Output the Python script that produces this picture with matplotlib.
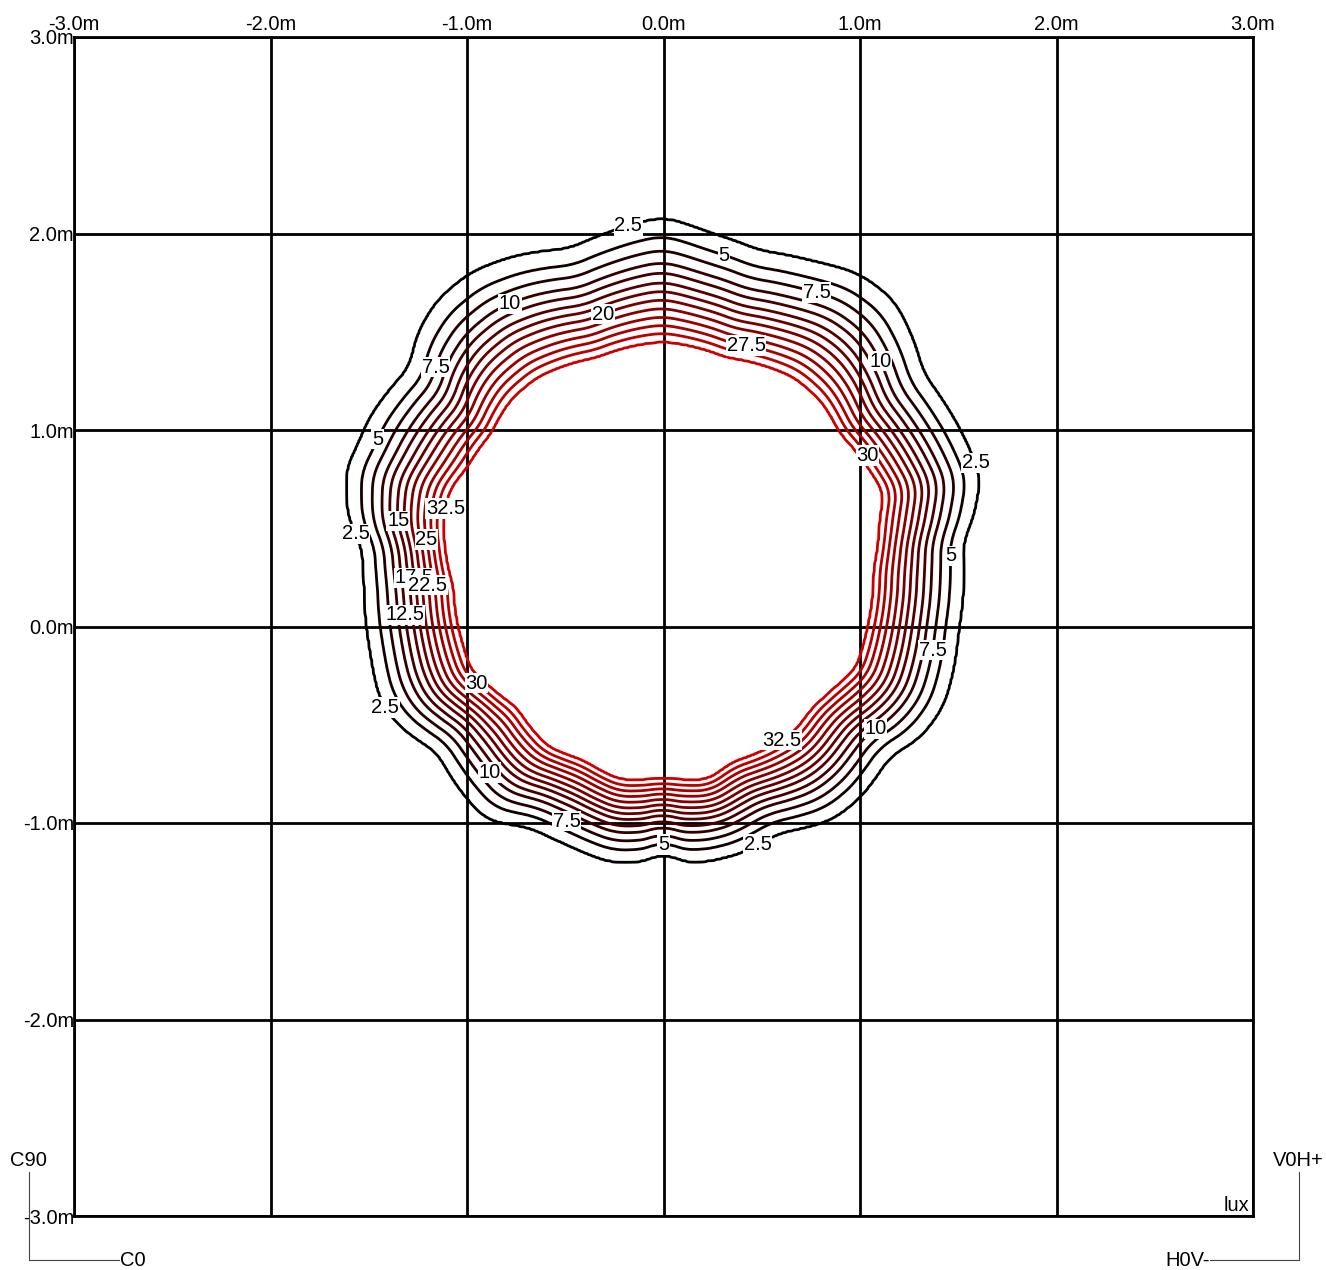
import numpy as np
import matplotlib
matplotlib.use('Agg')
import matplotlib.pyplot as plt
from matplotlib.lines import Line2D

plt.rcParams['font.family'] = ['Liberation Sans', 'DejaVu Sans']

# isolux levels (lux)
levels = [2.5, 5, 7.5, 10, 12.5, 15, 17.5, 20, 22.5, 25, 27.5, 30, 32.5]
# where each level sits between the 2.5 curve (0) and the 32.5 curve (1), read at the top
level_pos = [0, 0.15, 0.26, 0.36, 0.44, 0.52, 0.59, 0.66, 0.73, 0.80, 0.867, 0.933, 1.0]

# 2.5 lux curve (m)
outer_x = [0.00, -0.10, -0.29, -0.48, -0.77, -0.98, -1.15, -1.25, -1.29, -1.38, -1.49, -1.56,
           -1.61, -1.61, -1.60, -1.53, -1.52, -1.51, -1.49, -1.44, -1.36, -1.15, -1.02, -0.90,
           -0.68, -0.51, -0.26, -0.07, 0.00, 0.07, 0.19, 0.40, 0.58, 0.86, 1.00, 1.15, 1.31,
           1.42, 1.47, 1.50, 1.52, 1.52, 1.57, 1.61, 1.52, 1.42, 1.32, 1.27, 1.17, 1.00, 0.75,
           0.49, 0.24]
outer_y = [2.08, 2.06, 2.00, 1.92, 1.88, 1.80, 1.66, 1.49, 1.32, 1.22, 1.07, 0.91,
           0.81, 0.64, 0.55, 0.40, 0.20, 0.00, -0.13, -0.37, -0.49, -0.64, -0.85, -0.98,
           -1.02, -1.10, -1.20, -1.19, -1.14, -1.19, -1.20, -1.15, -1.05, -0.98, -0.87, -0.66, -0.56,
           -0.41, -0.24, -0.02, 0.12, 0.43, 0.54, 0.76, 0.98, 1.15, 1.29, 1.46, 1.66, 1.79, 1.86,
           1.91, 2.00]

# 32.5 lux curve
inner_x = [0.00, -0.34, -0.64, -0.78, -0.88, -1.00, -1.09, -1.12, -1.07, -1.02, -0.98, -0.88,
           -0.75, -0.59, -0.41, -0.22, 0.00, 0.22, 0.35, 0.49, 0.66, 0.76, 0.86, 0.98, 1.04,
           1.07, 1.10, 1.12, 1.04, 0.90, 0.80, 0.66, 0.32]
inner_y = [1.45, 1.37, 1.27, 1.15, 0.98, 0.81, 0.69, 0.54, 0.20, -0.10, -0.22, -0.31,
           -0.41, -0.61, -0.68, -0.78, -0.77, -0.78, -0.69, -0.64, -0.54, -0.41, -0.32, -0.21, 0.00,
           0.29, 0.54, 0.68, 0.81, 0.98, 1.15, 1.27, 1.37]

# where the contour labels sit
label_spots = {
    2.5: [(-0.18, 2.03), (1.60, 0.84), (-1.56, 0.47), (-1.43, -0.42), (0.48, -1.10)],
    5: [(0.30, 1.86), (-1.44, 0.95), (1.42, 0.36), (0.00, -1.06)],
    7.5: [(0.78, 1.70), (-1.15, 1.32), (1.38, -0.12), (-0.48, -0.97)],
    10: [(-0.78, 1.64), (1.08, 1.34), (1.08, -0.52), (-0.90, -0.76)],
    12.5: [(-1.32, 0.06)],
    15: [(-1.32, 0.54)],
    17.5: [(-1.31, 0.24)],
    20: [(-0.30, 1.56)],
    22.5: [(-1.20, 0.21)],
    25: [(-1.20, 0.44)],
    27.5: [(0.42, 1.41)],
    30: [(1.02, 0.86), (-0.96, -0.30)],
    32.5: [(-1.11, 0.60), (0.61, -0.60)],
}

ticks = [-3, -2, -1, 0, 1, 2, 3]
tick_labels = ['-3.0m', '-2.0m', '-1.0m', '0.0m', '1.0m', '2.0m', '3.0m']

fs = 14.5

# build a field whose level lines follow the read curves
cx, cy = np.mean(outer_x), np.mean(outer_y)
th_grid = np.linspace(-np.pi, np.pi, 720, endpoint=False)


def radius_curve(px, py):
    px = np.array(px) - cx
    py = np.array(py) - cy
    th = np.arctan2(py, px)
    r = np.hypot(px, py)
    order = np.argsort(th)
    r_fine = np.interp(th_grid, th[order], r[order], period=2 * np.pi)
    k = np.ones(11) / 11
    r_pad = np.concatenate([r_fine[-5:], r_fine, r_fine[:5]])
    return np.convolve(r_pad, k, mode='valid')


r_out = radius_curve(outer_x, outer_y)
r_in = radius_curve(inner_x, inner_y)

gx = np.linspace(-3, 3, 801)
X, Y = np.meshgrid(gx, gx)
TH = np.arctan2(Y - cy, X - cx)
R = np.hypot(X - cx, Y - cy)
RO = np.interp(TH, th_grid, r_out, period=2 * np.pi)
RI = np.interp(TH, th_grid, r_in, period=2 * np.pi)
S = (RO - R) / (RO - RI)
E = np.interp(S, [-1] + level_pos + [2], [0] + levels + [40])

colors = [(0.8 * i / (len(levels) - 1), 0, 0) for i in range(len(levels))]

fig = plt.figure(figsize=(13.26, 12.70), dpi=100)
ax = fig.add_axes([74 / 1326, 1 - 1216 / 1270, (1253 - 74) / 1326, (1216 - 37) / 1270])

ax.set_xlim(-3, 3)
ax.set_ylim(-3, 3)
ax.set_xticks(ticks)
ax.set_yticks(ticks)
ax.set_xticklabels(tick_labels)
ax.set_yticklabels(tick_labels)
ax.tick_params(axis='x', top=False, bottom=False, labeltop=True, labelbottom=False,
               length=0, pad=2, labelsize=fs)
ax.tick_params(axis='y', left=False, length=0, pad=0, labelsize=fs)
ax.grid(True, color='black', linewidth=2)
ax.set_axisbelow(True)
for s in ax.spines.values():
    s.set_linewidth(2)
    s.set_color('black')

cs = ax.contour(X, Y, E, levels=levels, colors=colors, linewidths=2)

# put each label on the nearest point of its own level line
for lv, spots in label_spots.items():
    segs = cs.allsegs[levels.index(lv)]
    pts = np.concatenate(segs)
    for sx, sy in spots:
        i = np.argmin((pts[:, 0] - sx) ** 2 + (pts[:, 1] - sy) ** 2)
        ax.text(pts[i, 0], pts[i, 1], f'{lv:g}', ha='center', va='center', fontsize=fs,
                zorder=5, bbox=dict(facecolor='white', edgecolor='none', pad=0.5))

ax.text(0.997, 0.001, 'lux', transform=ax.transAxes, ha='right', va='bottom', fontsize=fs)

# orientation markers
W, H = 1326, 1270
lc = '#444444'
fig.add_artist(Line2D([29 / W, 29 / W, 119 / W], [1 - 1172 / H, 1 - 1260 / H, 1 - 1260 / H],
                      color=lc, lw=0.8))
fig.add_artist(Line2D([1210 / W, 1299 / W, 1299 / W], [1 - 1260 / H, 1 - 1260 / H, 1 - 1172 / H],
                      color=lc, lw=0.8))
fig.text(28 / W, 1 - 1160 / H, 'C90', ha='center', va='center', fontsize=fs)
fig.text(120 / W, 1 - 1261 / H, 'C0', ha='left', va='center', fontsize=fs)
fig.text(1298 / W, 1 - 1160 / H, 'V0H+', ha='center', va='center', fontsize=fs)
fig.text(1210 / W, 1 - 1261 / H, 'H0V-', ha='right', va='center', fontsize=fs)

fig.savefig('out.png', dpi=100, facecolor='white')
